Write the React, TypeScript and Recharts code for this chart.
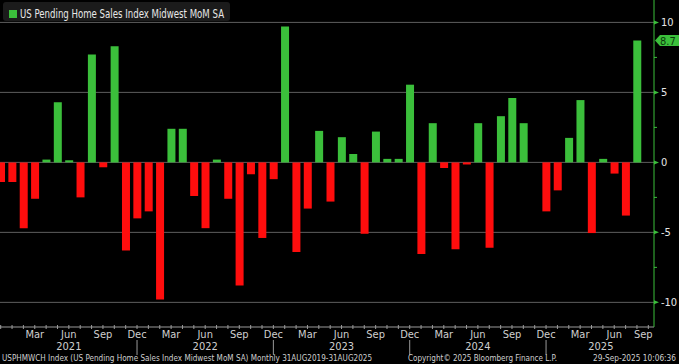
import { BarChart, Bar, Cell, XAxis, YAxis, CartesianGrid, ReferenceLine } from "recharts";

// Bloomberg-style monthly MoM bars, Dec 2020 .. Aug 2025 (Sep 2025 slot left empty)
const FONT = '"Liberation Sans Narrow", "DejaVu Sans Condensed", "Liberation Sans", sans-serif';
const GREEN = "#3bbf3b";
const RED = "#ff0d0d";

const months = [
  "Dec 2020",
  "Jan 2021", "Feb 2021", "Mar 2021", "Apr 2021", "May 2021", "Jun 2021",
  "Jul 2021", "Aug 2021", "Sep 2021", "Oct 2021", "Nov 2021", "Dec 2021",
  "Jan 2022", "Feb 2022", "Mar 2022", "Apr 2022", "May 2022", "Jun 2022",
  "Jul 2022", "Aug 2022", "Sep 2022", "Oct 2022", "Nov 2022", "Dec 2022",
  "Jan 2023", "Feb 2023", "Mar 2023", "Apr 2023", "May 2023", "Jun 2023",
  "Jul 2023", "Aug 2023", "Sep 2023", "Oct 2023", "Nov 2023", "Dec 2023",
  "Jan 2024", "Feb 2024", "Mar 2024", "Apr 2024", "May 2024", "Jun 2024",
  "Jul 2024", "Aug 2024", "Sep 2024", "Oct 2024", "Nov 2024", "Dec 2024",
  "Jan 2025", "Feb 2025", "Mar 2025", "Apr 2025", "May 2025", "Jun 2025",
  "Jul 2025", "Aug 2025", "Sep 2025",
];

const momValues: (number | null)[] = [
  -1.4,
  -1.4, -4.7, -2.6, 0.2, 4.3, 0.15, -2.5, 7.7, -0.35, 8.3, -6.3, -4.0,
  -3.5, -9.8, 2.4, 2.4, -2.4, -4.7, 0.2, -2.6, -8.8, -0.85, -5.4, -1.2,
  9.7, -6.4, -3.3, 2.25, -2.8, 1.8, 0.6, -5.1, 2.2, 0.25, 0.25, 5.55,
  -6.55, 2.8, -0.4, -6.2, -0.15, 2.8, -6.1, 3.3, 4.6, 2.8, 0, -3.5,
  -2.0, 1.75, 4.45, -5.05, 0.25, -0.8, -3.8, 8.7,
  null,
];

const yTicks = [-10, -7.5, -5, -2.5, 0, 2.5, 5, 7.5, 10];
const gridValues = [-10, -5, 0, 5, 10];
const quarterMonths = ["Mar", "Jun", "Sep", "Dec"];
const yearLabels: Record<string, string> = {
  "Jun 2021": "2021",
  "Jun 2022": "2022",
  "Jun 2023": "2023",
  "Jun 2024": "2024",
  "May 2025": "2025",
};

const data = months.map((m, i) => ({ m, v: momValues[i] }));
const lastValue = momValues.filter((v) => v !== null).slice(-1)[0] as number;

function MonthTick({ x, y, payload }: any) {
  const [mon] = String(payload.value).split(" ");
  const isFirst = payload.value === months[0];
  const isLast = payload.value === months[months.length - 1];
  const year = yearLabels[payload.value];
  return (
    <g>
      <line x1={x} x2={x} y1={y - 2} y2={y + 2} stroke="#9a9a9a" />
      {!isFirst && quarterMonths.includes(mon) && (
        <text x={isLast ? x - 5 : x} y={y + 11} textAnchor="middle" fill="#cfcfcf" fontSize={11} fontFamily={FONT}>
          {mon}
        </text>
      )}
      {!isFirst && mon === "Dec" && <line x1={x} x2={x} y1={y + 13} y2={y + 28} stroke="#9a9a9a" />}
      {year && (
        <text x={payload.value === "May 2025" ? x - 2 : x} y={y + 22.5} textAnchor="middle" fill="#cfcfcf" fontSize={11} fontFamily={FONT}>
          {year}
        </text>
      )}
    </g>
  );
}

function ValueTick({ x, y, payload }: any) {
  const v = payload.value as number;
  const major = v % 5 === 0;
  if (!major) return <line x1={x} x2={x + 3} y1={y} y2={y} stroke={GREEN} />;
  return (
    <g>
      <polygon points={`${x},${y - 2} ${x + 5},${y} ${x},${y + 2}`} fill={GREEN} />
      <text x={x + 7} y={y} dy="0.35em" fill="#e6e6e6" fontSize={11} fontFamily={FONT}>
        {v}
      </text>
    </g>
  );
}

function LastTag(props: any) {
  const vb = props.viewBox;
  const ax = vb.x + vb.width + 1;
  const y = vb.y;
  return (
    <g>
      <path
        d={`M${ax},${y} L${ax + 5},${y - 5.5} L${ax + 40},${y - 5.5} L${ax + 40},${y + 5.5} L${ax + 5},${y + 5.5} Z`}
        fill={GREEN}
      />
      <text x={ax + 5} y={y} dy="0.36em" fill="#0b3a0b" fontSize={11} fontFamily={FONT}>
        {lastValue.toFixed(1)}
      </text>
    </g>
  );
}

export default function App() {
  return (
    <div style={{ position: "absolute", left: 0, top: 0, width: 679, height: 364, overflow: "hidden", background: "#000" }}>
      <div style={{ position: "absolute", left: -5, top: 0 }}>
        <BarChart width={684} height={364} data={data} margin={{ top: 0, right: 0, bottom: 0, left: 0 }}>
          <CartesianGrid vertical={false} horizontalValues={gridValues} stroke="#5e5e5e" />
          <XAxis
            dataKey="m"
            height={37}
            interval={0}
            tickSize={0}
            tickMargin={0}
            tick={<MonthTick />}
            axisLine={{ stroke: "#9a9a9a" }}
          />
          <YAxis
            orientation="right"
            width={25}
            domain={[-11.76, 11.6]}
            ticks={yTicks}
            interval={0}
            tickSize={0}
            tickMargin={0}
            tickLine={false}
            tick={<ValueTick />}
            axisLine={{ stroke: GREEN }}
          />
          <Bar dataKey="v" barSize={8} isAnimationActive={false}>
            {data.map((d, i) => (
              <Cell key={`c-${i}`} fill={(d.v ?? 0) >= 0 ? GREEN : RED} />
            ))}
          </Bar>
          <ReferenceLine y={lastValue} stroke="none" ifOverflow="visible" label={(p: any) => <LastTag {...p} />} />
        </BarChart>
      </div>
      <svg width={679} height={364} style={{ position: "absolute", left: 0, top: 0, pointerEvents: "none" }}>
        <rect x={3} y={2} width={227} height={19} rx={3} fill="#1b1b1b" />
        <rect x={9} y={10} width={8} height={8} fill={GREEN} />
        <text x={20} y={18} fill="#e8e8e8" fontSize={12} fontFamily={FONT} textLength={204} lengthAdjust="spacingAndGlyphs">
          US Pending Home Sales Index Midwest MoM SA
        </text>
        <g fill="#cfcfcf" fontSize={9} fontFamily={FONT}>
          <text x={2} y={361} textLength={370} lengthAdjust="spacingAndGlyphs">
            USPHMWCH Index (US Pending Home Sales Index Midwest MoM SA) Monthly 31AUG2019-31AUG2025
          </text>
          <text x={408} y={361} textLength={149} lengthAdjust="spacingAndGlyphs">
            Copyright© 2025 Bloomberg Finance L.P.
          </text>
          <text x={676} y={361} textAnchor="end" fontSize={8.5} textLength={83} lengthAdjust="spacingAndGlyphs">
            29-Sep-2025 10:06:36
          </text>
        </g>
      </svg>
    </div>
  );
}
